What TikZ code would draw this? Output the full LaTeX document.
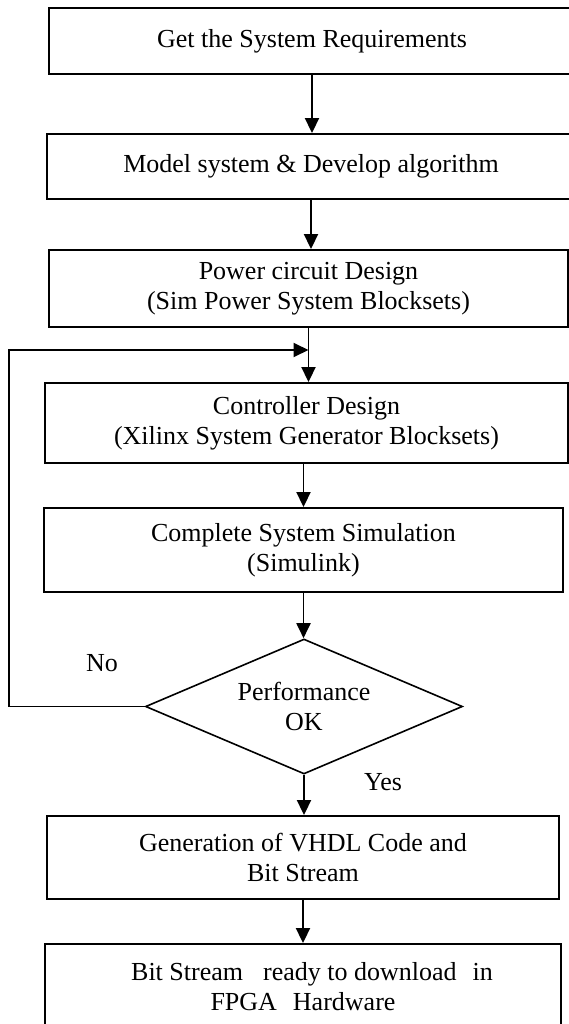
\documentclass[tikz,border=0pt]{standalone}
\usepackage{fontspec}
\setmainfont{Liberation Serif}
\usepackage{tikz}
\usetikzlibrary{arrows.meta}
\usetikzlibrary{shapes.geometric,calc,positioning}

\begin{document}
\begin{tikzpicture}[x=1pt,y=-1pt,blk/.style={rectangle,draw,line width=1.9pt,inner sep=0pt,align=center},dec/.style={diamond,draw,line width=1.6pt,inner sep=0pt,aspect=2.35,align=center,minimum width=317pt,minimum height=135pt},lbl/.style={inner sep=0pt},>={Triangle[width=14pt,length=15pt]},font=\fontsize{26}{30}\selectfont]
    \useasboundingbox (0,0) rectangle (569,1024);
    % boxes of the flow
    \node[blk,minimum width=526pt,minimum height=66pt] (req) at (312,41) {Get the System Requirements};
    \node[blk,minimum width=528pt,minimum height=65pt] (model) at (311,166.5) {Model system \& Develop algorithm};
    \node[blk,minimum width=519pt,minimum height=77pt] (power) at (308.5,288.5) {Power circuit Design\\(Sim Power System Blocksets)};
    \node[blk,minimum width=523pt,minimum height=80pt] (ctrl) at (306.5,423) {Controller Design\\(Xilinx System Generator Blocksets)};
    \node[blk,minimum width=519pt,minimum height=84pt] (sim) at (303.5,550) {Complete System Simulation\\(Simulink)};
    \node[dec] (perf) at (304,706.5) {Performance\\OK};
    \node[blk,minimum width=512pt,minimum height=83pt] (vhdl) at (303,857.5) {Generation of VHDL Code and\\Bit Stream};
    \node[blk,minimum width=516pt,minimum height=86pt] (bit) at (303,987) {\hspace*{18pt}Bit Stream\hspace{20pt}ready to download\hspace{16pt}in\\FPGA\hspace{16pt}Hardware};
    \node[lbl] (no) at (102,663) {No};
    \node[lbl] (yes) at (383,782) {Yes};
    % connectors
    \coordinate (merge) at (power.south |- 0,350);
    \coordinate (corner) at (9,350);
    \begin{scope}[line width=1.9pt]
    \draw[->] (req.south) -- (req.south |- model.north);
    \draw[->] (model.south) -- (model.south |- power.north);
    \draw[->] (power.south) -- (power.south |- ctrl.north);
    \draw[->] (ctrl.south -| sim.north) -- (sim.north);
    \draw[->] (sim.south) -- (sim.south |- perf.north);
    \draw[->] (perf.south) -- (perf.south |- vhdl.north);
    \draw[->] (vhdl.south) -- (vhdl.south |- bit.north);
    \draw[->] (perf.west) -| (corner) -- (merge);
    \end{scope}
\end{tikzpicture}
\end{document}
